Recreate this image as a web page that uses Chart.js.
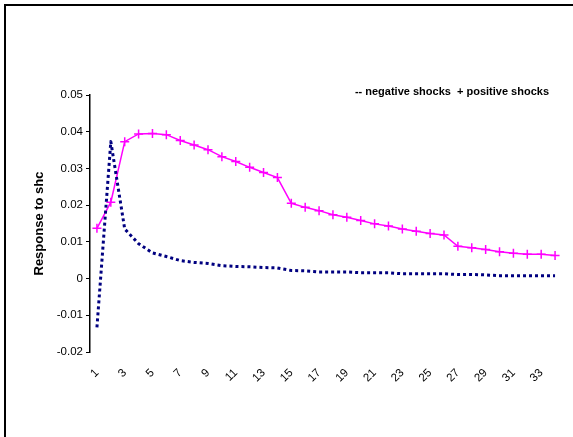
<!DOCTYPE html>
<html>
<head>
<meta charset="utf-8">
<script src="https://cdn.jsdelivr.net/npm/chart.js@4.4.0/dist/chart.umd.min.js"></script>
<style>
	html, body { margin: 0; padding: 0; background: #fff; }
	#frame {
		position: absolute;
		left: 4px;
		top: 4px;
		width: 569px;
		height: 433px;
		border-top: 2px solid #000;
		border-left: 2px solid #000;
		box-sizing: border-box;
	}
	#wrap { position: absolute; left: 0; top: 0; width: 573px; height: 437px; }
</style>
</head>
<body>
<div id="frame"></div>
<div id="wrap"><canvas id="chart" width="573" height="437"></canvas></div>
<script>
// periods after the shock
const periods = Array.from({length: 34}, (_, i) => String(i + 1));

// response to negative shocks (dotted navy)
const negativeShocks = [
	-0.0133, 0.0373, 0.0135, 0.0095, 0.0070, 0.0060, 0.0049, 0.0044, 0.0041, 0.0035,
	0.0033, 0.0032, 0.0030, 0.0029, 0.0022, 0.0021, 0.0018, 0.0018, 0.0018, 0.0016,
	0.0016, 0.0016, 0.0013, 0.0013, 0.0013, 0.0013, 0.0011, 0.0011, 0.0010, 0.0008,
	0.0008, 0.0008, 0.0008, 0.0008
];

// response to positive shocks (magenta with crosses)
const positiveShocks = [
	0.0137, 0.0208, 0.0373, 0.0394, 0.0395, 0.0392, 0.0376, 0.0364, 0.0351, 0.0332,
	0.0319, 0.0303, 0.0289, 0.0275, 0.0205, 0.0194, 0.0185, 0.0174, 0.0167, 0.0158,
	0.0149, 0.0143, 0.0135, 0.0129, 0.0123, 0.0119, 0.0088, 0.0084, 0.0079, 0.0073,
	0.0069, 0.0066, 0.0066, 0.0063
];

const yTicks = [-0.02, -0.01, 0, 0.01, 0.02, 0.03, 0.04, 0.05];
const legendText = '-- negative shocks  + positive shocks';

const fontFamily = '"Liberation Sans", Arial, sans-serif';

// text legend drawn above the plot, like the original
const textLegend = {
	id: 'textLegend',
	afterDraw(chart) {
		const ctx = chart.ctx;
		ctx.save();
		ctx.font = 'bold 11px ' + fontFamily;
		ctx.fillStyle = '#000';
		ctx.textAlign = 'right';
		ctx.textBaseline = 'alphabetic';
		ctx.fillText(legendText, 549, 95);
		ctx.restore();
	}
};

new Chart(document.getElementById('chart'), {
	type: 'line',
	data: {
		labels: periods,
		datasets: [{
			label: 'negative shocks',
			data: negativeShocks,
			borderColor: '#000080',
			borderWidth: 3,
			borderDash: [3, 3],
			borderJoinStyle: 'round',
			pointRadius: 0,
			tension: 0,
			fill: false
		}, {
			label: 'positive shocks',
			data: positiveShocks,
			borderColor: '#ff00ff',
			borderWidth: 1.5,
			pointStyle: 'cross',
			pointRadius: 4.5,
			pointBorderWidth: 1.5,
			pointBorderColor: '#ff00ff',
			tension: 0,
			fill: false
		}]
	},
	options: {
		responsive: false,
		animation: false,
		layout: {padding: {top: 95, right: 11, bottom: 0, left: 0}},
		plugins: {
			legend: {display: false},
			tooltip: {enabled: false}
		},
		scales: {
			x: {
				offset: true,
				grid: {display: false},
				border: {display: false},
				afterFit(scale) { scale.height = 85; },
				ticks: {
					autoSkip: false,
					maxRotation: 45,
					minRotation: 45,
					padding: 6,
					color: '#000',
					font: {family: fontFamily, size: 11.5},
					callback(value, index) {
						return index % 2 === 0 ? this.getLabelForValue(value) : '';
					}
				}
			},
			y: {
				min: -0.02,
				max: 0.05,
				afterFit(scale) { scale.width = 90; },
				afterBuildTicks(scale) { scale.ticks = yTicks.map(v => ({value: v})); },
				grid: {
					drawOnChartArea: false,
					drawTicks: true,
					tickLength: 4,
					color: '#000',
					lineWidth: 1
				},
				border: {display: true, color: '#000', width: 1.5},
				ticks: {
					color: '#000',
					padding: 3,
					font: {family: fontFamily, size: 11.5},
					callback(value) {
						return value === 0 ? '0' : value.toFixed(2);
					}
				},
				title: {
					display: true,
					text: 'Response to shc',
					color: '#000',
					font: {family: fontFamily, size: 13, weight: 'bold'},
					padding: {top: 32, bottom: 0}
				}
			}
		}
	},
	plugins: [textLegend]
});
</script>
</body>
</html>
